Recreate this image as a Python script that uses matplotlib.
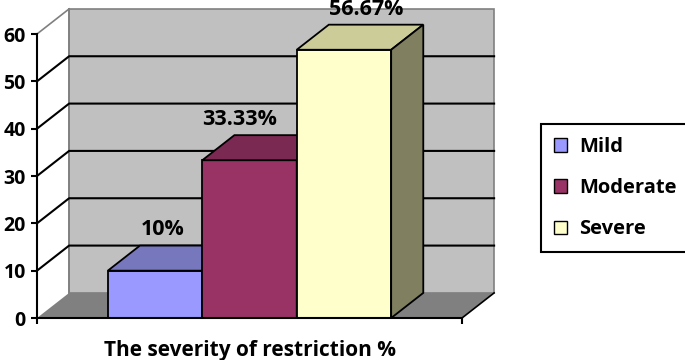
import numpy as np
import matplotlib.pyplot as plt
from matplotlib.patches import Polygon, Patch

plt.rcParams['font.family'] = ['Open Sans', 'DejaVu Sans']
plt.rcParams['font.weight'] = 'bold'

# datos
categorias = ['Mild', 'Moderate', 'Severe']
valores = [10, 33.33, 56.67]
etiquetas = ['10%', '33.33%', '56.67%']
yticks = [0, 10, 20, 30, 40, 50, 60]

frente = ['#9999FF', '#993366', '#FFFFCC']
arriba = ['#7777BE', '#7A2952', '#CCCC99']
lado = ['#5F5FA0', '#5C1F3E', '#808060']
# desplazamiento horizontal de las etiquetas (como en el original)
desp_etiq = [0.08, -0.1, 0.24]

fig = plt.figure(figsize=(6.85, 3.6), dpi=100)
ax = fig.add_axes([37/685, 42/360, 425/685, 284/360])
ax.set_xlim(-0.25, 4.25)
ax.set_ylim(0, 60)

# profundidad del efecto 3D (en unidades de datos)
dx, dy = 0.34, 5.3
x0, x1 = -0.25, 4.25
ymax = 60

# pared del fondo, pared izquierda y piso
ax.add_patch(Polygon([(x0+dx, dy), (x1+dx, dy), (x1+dx, ymax+dy), (x0+dx, ymax+dy)],
                     closed=True, fc='#C0C0C0', ec='#808080', lw=1.2, clip_on=False, zorder=1))
ax.add_patch(Polygon([(x0, 0), (x1, 0), (x1+dx, dy), (x0+dx, dy)],
                     closed=True, fc='#808080', ec='none', clip_on=False, zorder=1))
ax.plot([x1, x1+dx], [0, dy], color='black', lw=1.2, clip_on=False, zorder=2)
ax.plot([x0, x0+dx], [ymax, ymax+dy], color='#808080', lw=1.2, clip_on=False, zorder=2)
ax.plot([x0+dx, x0+dx], [dy, ymax+dy], color='#808080', lw=1.2, clip_on=False, zorder=2)

# lineas de cuadricula
for v in yticks[1:-1]:
    ax.plot([x0, x0+dx, x1+dx], [v, v+dy, v+dy], color='black', lw=1.5,
            clip_on=False, zorder=2)

# barras 3D
for i, v in enumerate(valores):
    a, b = i + 0.5, i + 1.5
    ax.add_patch(Polygon([(a, 0), (b, 0), (b, v), (a, v)], closed=True,
                         fc=frente[i], ec='black', lw=1.3, clip_on=False, zorder=3))
    ax.add_patch(Polygon([(a, v), (b, v), (b+dx, v+dy), (a+dx, v+dy)], closed=True,
                         fc=arriba[i], ec='black', lw=1.3, clip_on=False, zorder=3))
    ax.add_patch(Polygon([(b, 0), (b+dx, dy), (b+dx, v+dy), (b, v)], closed=True,
                         fc=lado[i], ec='black', lw=1.3, clip_on=False, zorder=3))
    ax.text((a+b)/2 + desp_etiq[i], v + dy + 3.3, etiquetas[i], ha='center', va='center',
            fontsize=15.5, fontweight='bold', clip_on=False, zorder=4)

for s in ['top', 'right']:
    ax.spines[s].set_visible(False)
ax.spines['left'].set_linewidth(1.5)
ax.spines['bottom'].set_linewidth(1.5)
ax.spines['left'].set_zorder(5)
ax.spines['bottom'].set_zorder(5)
ax.patch.set_visible(False)

ax.set_yticks(yticks)
ax.set_yticklabels([str(t) for t in yticks], fontsize=14, fontweight='bold')
ax.set_xticks([x0, x1])
ax.set_xticklabels(['', ''])
ax.tick_params(direction='out', length=4, width=1.5, pad=4)
ax.set_xlabel('The severity of restriction %', fontsize=15, fontweight='bold', labelpad=8)

handles = [Patch(fc=c, ec='black', lw=1) for c in frente]
leg = fig.legend(handles, categorias, loc='upper left', bbox_to_anchor=(541/685, 1 - 124/360),
                 prop={'weight': 'bold', 'size': 14.5}, frameon=True, fancybox=False,
                 edgecolor='black', framealpha=1, handlelength=0.65, handleheight=0.65,
                 labelspacing=1.05, handletextpad=0.6, borderpad=0.65, borderaxespad=0)
leg.get_frame().set_linewidth(1.5)

fig.savefig('out.png', dpi=100)
